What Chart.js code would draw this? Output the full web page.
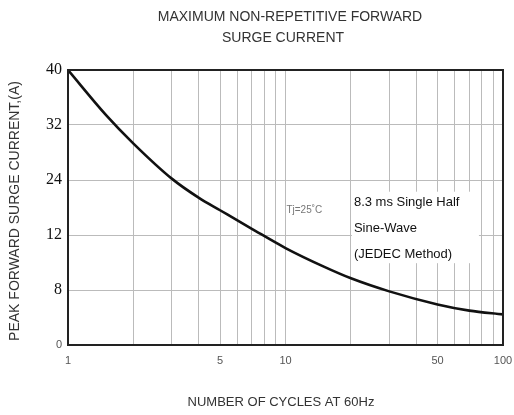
<!DOCTYPE html>
<html>
<head>
<meta charset="utf-8">
<script src="https://cdn.jsdelivr.net/npm/chart.js@4.4.1/dist/chart.umd.min.js"></script>
<style>
  html, body { margin: 0; padding: 0; background: #fff; }
  #wrap { width: 514px; height: 415px; }
</style>
</head>
<body>
<div id="wrap"><canvas id="surgeChart" width="514" height="415"></canvas></div>
<script>
// data
const cycles  = [1, 1.5, 2, 3, 4, 5, 7, 10, 15, 20, 30, 50, 70, 100];
const current = [40, 33.4, 29.3, 24.2, 21.4, 19.6, 16.9, 14.1, 11.4, 9.7, 7.8, 5.9, 5.0, 4.45];

// axis ticks
const xGridTicks = [1, 2, 3, 4, 5, 6, 7, 8, 9, 10, 20, 30, 40, 50, 60, 70, 80, 90, 100];
const xTickLabels = [1, 5, 10, 50, 100];
const yTickValues = [0, 8, 16, 24, 32, 40];
const yTickLabels = ['0', '8', '12', '24', '32', '40'];

const titleLines = ['MAXIMUM NON-REPETITIVE FORWARD', 'SURGE CURRENT'];
const noteLines = ['8.3 ms Single Half', 'Sine-Wave', '(JEDEC Method)'];
const tempNote = 'Tj=25˚C';

const SANS = '"Liberation Sans", Arial, sans-serif';
const SERIF = '"Liberation Serif", "Times New Roman", serif';

// extra texts, note box and frame
const extras = {
    id: 'extras',
    beforeDatasetsDraw(chart) {
        const { ctx, scales: { x, y } } = chart;
        // white box over the grid for the note
        const l = x.getPixelForValue(20.2), r = x.getPixelForValue(77.5);
        const t = y.getPixelForValue(22.3), b = y.getPixelForValue(11.9);
        ctx.save();
        ctx.fillStyle = '#fff';
        ctx.fillRect(l, t, r - l, b - t);
        ctx.fillStyle = '#111';
        ctx.font = '13px ' + SANS;
        ctx.textBaseline = 'middle';
        noteLines.forEach((s, i) => ctx.fillText(s, l + 2, t + 11 + i * 26));
        ctx.fillStyle = '#777';
        ctx.font = '10px ' + SANS;
        ctx.fillText(tempNote, x.getPixelForValue(10.1), y.getPixelForValue(19.6));
        ctx.restore();
    },
    afterDraw(chart) {
        const { ctx, chartArea: a } = chart;
        ctx.save();
        ctx.strokeStyle = '#222';
        ctx.lineWidth = 2;
        ctx.strokeRect(a.left, a.top, a.right - a.left, a.bottom - a.top);

        ctx.fillStyle = '#333';
        ctx.textAlign = 'center';
        ctx.textBaseline = 'middle';
        ctx.font = '14px ' + SANS;
        ctx.fillText(titleLines[0], 290, 17);
        ctx.fillText(titleLines[1], 283, 38);

        ctx.font = '13px ' + SANS;
        ctx.fillText('NUMBER OF CYCLES AT 60Hz', 281, 402);

        ctx.font = '14px ' + SANS;
        ctx.translate(15, 211);
        ctx.rotate(-Math.PI / 2);
        ctx.fillText('PEAK FORWARD SURGE CURRENT,(A)', 0, 0);
        ctx.restore();
    }
};

new Chart(document.getElementById('surgeChart'), {
    type: 'line',
    data: {
        datasets: [{
            data: cycles.map((c, i) => ({ x: c, y: current[i] })),
            borderColor: '#111',
            borderWidth: 2.6,
            pointRadius: 0,
            cubicInterpolationMode: 'monotone',
            fill: false
        }]
    },
    options: {
        responsive: false,
        animation: false,
        layout: { padding: { left: 0, right: 11, top: 70, bottom: 0 } },
        plugins: { legend: { display: false }, tooltip: { enabled: false } },
        scales: {
            x: {
                type: 'logarithmic',
                min: 1,
                max: 100,
                afterFit(s) { s.height = 70; s.paddingLeft = 0; s.paddingRight = 0; },
                afterBuildTicks(s) { s.ticks = xGridTicks.map(v => ({ value: v })); },
                grid: { color: '#bbb', lineWidth: 1, drawTicks: false },
                border: { color: '#222', width: 2 },
                ticks: {
                    autoSkip: false,
                    maxRotation: 0,
                    padding: 9,
                    color: '#555',
                    font: { family: SANS, size: 11 },
                    callback: v => xTickLabels.includes(v) ? String(v) : ''
                }
            },
            y: {
                min: 0,
                max: 40,
                afterFit(s) { s.width = 68; s.paddingTop = 0; s.paddingBottom = 0; },
                afterBuildTicks(s) { s.ticks = yTickValues.map(v => ({ value: v })); },
                grid: { color: '#bbb', lineWidth: 1, drawTicks: false },
                border: { color: '#222', width: 2 },
                ticks: {
                    padding: 6,
                    color: c => c.tick && c.tick.value === 0 ? '#555' : '#111',
                    font: c => c.tick && c.tick.value === 0
                        ? { family: SANS, size: 11 }
                        : { family: SERIF, size: 16 },
                    callback: v => yTickLabels[yTickValues.indexOf(v)]
                }
            }
        }
    },
    plugins: [extras]
});
</script>
</body>
</html>
